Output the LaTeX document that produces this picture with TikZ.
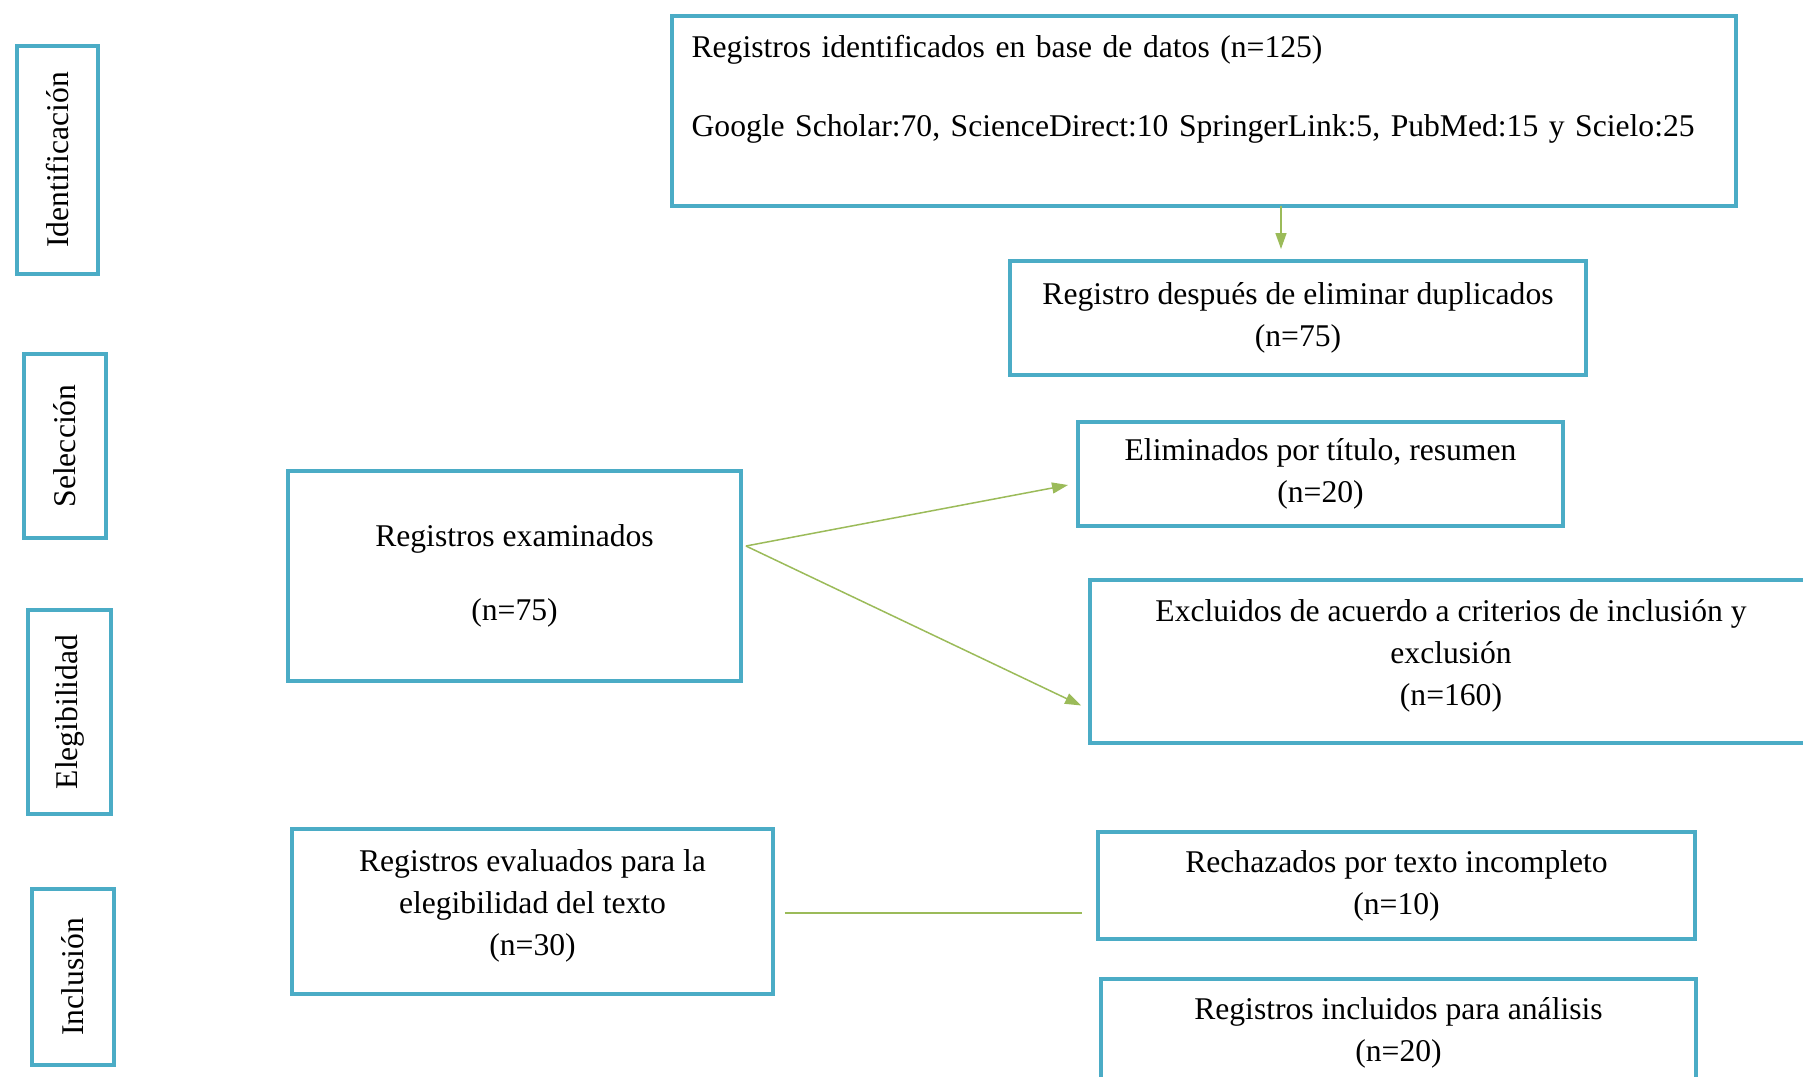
\documentclass[tikz,border=0pt]{standalone}
\usepackage{fontspec}
\setmainfont{Liberation Serif}
\usetikzlibrary{arrows.meta, positioning, calc}
\definecolor{boxblue}{HTML}{4BACC6}
\definecolor{linkgreen}{HTML}{9BBB59}

\begin{document}
\begin{tikzpicture}[x=0.02cm, y=-0.02cm]
	\tikzset {>={Triangle[length=0.32cm, width=0.22cm]}, every node/.style={font=\fontsize{18}{24}\selectfont}, box/.style={draw=boxblue, line width=0.08cm, align=center, inner sep=0pt}, phase/.style={box, rotate=90}, link/.style={color=linkgreen, line width=0.03cm} }
	
	\useasboundingbox (0,0) rectangle (1803,1076);
	
	% fases
	\node[phase, minimum width=4.56cm, minimum height=1.62cm] (ident) at (57.5,160) {Identificación};
	\node[phase, minimum width=3.68cm, minimum height=1.64cm] (selec) at (65,446) {Selección};
	\node[phase, minimum width=4.08cm, minimum height=1.66cm] (elegib) at (69.5,712) {Elegibilidad};
	\node[phase, minimum width=3.52cm, minimum height=1.64cm] (inclus) at (73,977) {Inclusión};
	
	% cajas
	\node[box, minimum width=21.28cm, minimum height=3.8cm, text width=20.5cm, align=left] (bases) at (1204,111) {Registros identificados en base de datos (n=125)\\[21pt] Google Scholar:70, ScienceDirect:10 SpringerLink:5, PubMed:15 y Scielo:25\\[5pt]\mbox{}};
	\node[box, minimum width=11.52cm, minimum height=2.28cm] (dup) at (1298,318) {Registro después de eliminar duplicados\\ (n=75)};
	\node[box, minimum width=9.7cm, minimum height=2.08cm] (elim) at (1320.5,474) {Eliminados por título, resumen\\ (n=20)};
	\node[box, minimum width=9.06cm, minimum height=4.2cm] (exam) at (514.5,576) {Registros examinados\\[18pt] (n=75)};
	\node[box, minimum width=14.44cm, minimum height=3.26cm] (excl) at (1451,661.5) {Excluidos de acuerdo a criterios de inclusión y\\ exclusión\\ (n=160)\\[-14pt]\mbox{}};
	\node[box, minimum width=9.62cm, minimum height=3.3cm] (eval) at (532.5,911.5) {Registros evaluados para la\\ elegibilidad del texto\\ (n=30)\\[-14pt]\mbox{}};
	\node[box, minimum width=11.94cm, minimum height=2.14cm] (rech) at (1396.5,885.5) {Rechazados por texto incompleto\\ (n=10)};
	\node[box, minimum width=11.9cm, minimum height=2.18cm] (incl) at (1398.5,1033) {Registros incluidos para análisis\\ (n=20)};
	
	\coordinate (fork) at ($(exam.east)+(3,-30)$);
	
	\draw[link, ->] ($(bases.south)+(77,-2)$) -- ($(dup.north)+(-17,-10)$);
	\draw[link, ->] (fork) -- ($(elim.west)+(-8,11)$);
	\draw[link, ->] (fork) -- ($(excl.west)+(-7,44)$);
	\draw[link] ($(eval.east)+(10,1.5)$) -- ($(rech.west)+(-14,27.5)$);
\end{tikzpicture}
\end{document}
